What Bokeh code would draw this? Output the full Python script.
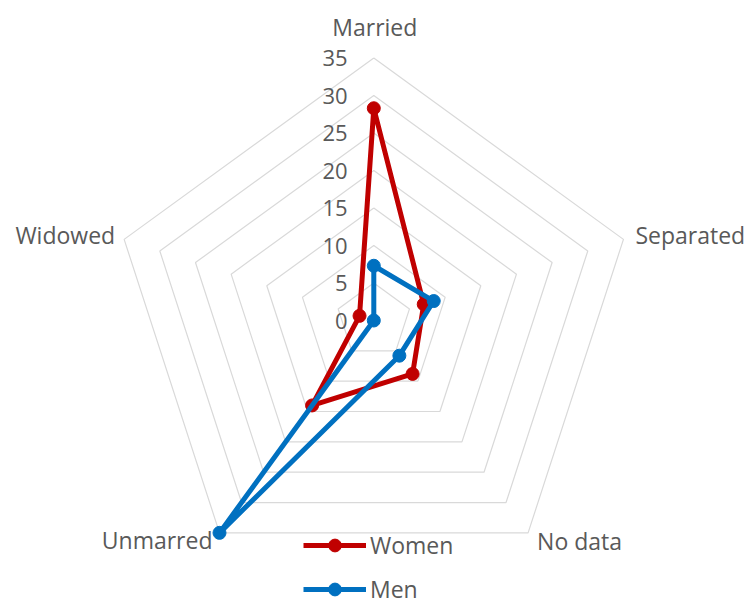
import numpy as np
from bokeh.plotting import figure
from bokeh.models import ColumnDataSource, Range1d, Legend, LegendItem
from bokeh.embed import file_html
from bokeh.resources import INLINE
from bokeh.core.properties import value

categories = ["Married", "Separated", "No data", "Unmarred", "Widowed"]
women = [28.3, 7.0, 8.8, 14.0, 2.0]
men = [7.3, 8.4, 5.8, 35.0, 0.0]
ticks = [0, 5, 10, 15, 20, 25, 30, 35]
tick_labels = ["0", "5", "10", "15", "20", "25", "30", "35"]

FONT = "Open Sans"
TXT = "#595959"
W, H = 746, 606
scale = 7.5
cx, cy = 373.3, 320.0

p = figure(width=W, height=H, output_backend="svg", toolbar_location=None,
           x_range=Range1d(-cx / scale, (W - cx) / scale),
           y_range=Range1d(-(H - cy) / scale, cy / scale),
           x_axis_location=None, y_axis_location=None, min_border=0)
p.grid.visible = False
p.outline_line_color = None

n = len(categories)
ang = np.deg2rad(90 - 72 * np.arange(n))
cosa, sina = np.cos(ang), np.sin(ang)

# grid pentagons
gx, gy = [], []
for t in ticks[1:]:
    gx.append(list(t * cosa) + [t * cosa[0]])
    gy.append(list(t * sina) + [t * sina[0]])
p.multi_line(gx, gy, line_color="#D9D9D9", line_width=1.2)

# value labels
p.text(x=[-3.5] * len(ticks), y=ticks, text=tick_labels, text_align="right",
       text_baseline="middle", text_font=value(FONT), text_font_size=value("22px"),
       text_color=TXT)

# category labels
rmax = ticks[-1]
cat_src = ColumnDataSource(dict(
    x=list(rmax * cosa), y=list(rmax * sina), text=categories,
    align=["center", "left", "left", "right", "right"],
    xo=[1, 12, 9, -7, -9], yo=[-31, -4, 8, 7, -4],
))
p.text(x="x", y="y", text="text", source=cat_src, text_align="align",
       x_offset="xo", y_offset="yo", text_baseline="middle",
       text_font=value(FONT), text_font_size=value("23px"), text_color=TXT)

items = []
for name, vals, col in [("Women", women, "#C00000"), ("Men", men, "#0070C0")]:
    v = np.array(vals)
    xs = list(v * cosa) + [v[0] * cosa[0]]
    ys = list(v * sina) + [v[0] * sina[0]]
    r1 = p.line(xs, ys, line_color=col, line_width=5, line_join="round")
    r2 = p.scatter(list(v * cosa), list(v * sina), size=13, fill_color=col,
                   line_color=col, marker="circle")
    items.append(LegendItem(label=name, renderers=[r1, r2]))

legend = Legend(items=items, location=(303, 1), orientation="vertical",
                glyph_width=63, glyph_height=32, label_height=20,
                label_standoff=4, spacing=12, padding=0, margin=0,
                border_line_color=None, background_fill_alpha=0,
                label_text_font=FONT, label_text_font_size="23px",
                label_text_color=TXT)
p.add_layout(legend)

open("out.html", "w").write(file_html(p, INLINE))
